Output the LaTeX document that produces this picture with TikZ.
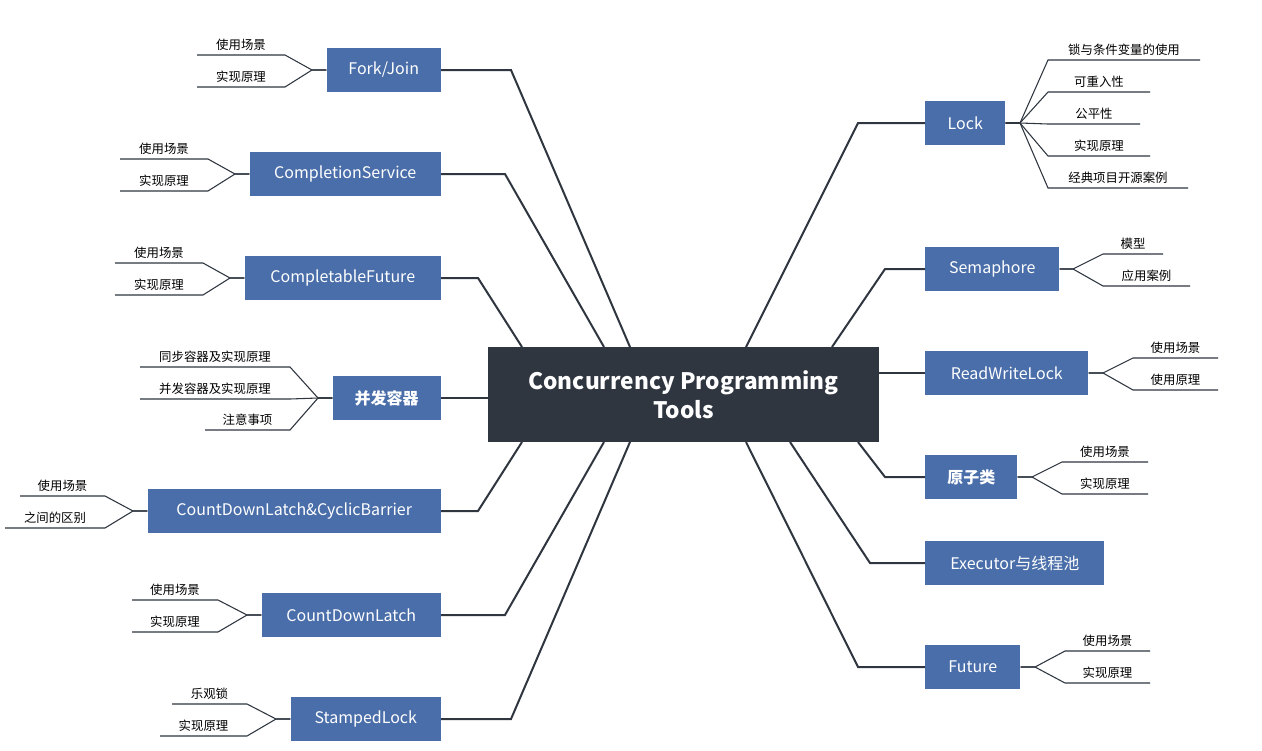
\documentclass[tikz,border=0pt]{standalone}
\usepackage{fontspec}
\setmainfont{Noto Sans CJK SC}
\begin{document}
\begin{tikzpicture}[x=0.75pt,y=-0.75pt,
  box/.style={fill=boxc,text=white,font=\fontsize{12}{14}\selectfont,minimum height=33pt,inner sep=0pt,anchor=west},
  lbox/.style={box,anchor=east},
  main/.style={draw=linec,line width=1.5pt},
  leaf/.style={draw=linec,line width=0.8pt},
  lt/.style={font=\fontsize{9.3}{11}\selectfont,text=black}]
\definecolor{boxc}{HTML}{4A6EA9}
\definecolor{linec}{HTML}{2F3640}
\useasboundingbox (0,0) rectangle (1262,750);
\fill[white] (0,0) rectangle (1262,750);
\node[fill=linec,text=white,font=\fontsize{17}{22}\selectfont\bfseries,align=center,minimum width=293pt,minimum height=71pt,inner sep=0pt] (c) at (683.5,394.5) {Concurrency Programming\\Tools};
\newcommand\lbx[4]{\node[lbox,minimum width=#3*0.75pt] (#1) at (441,#2) {#4};}
\lbx{fj}{70}{114}{Fork/Join}
\lbx{cs}{174}{191}{CompletionService}
\lbx{cf}{278}{196}{CompletableFuture}
\lbx{bf}{398}{108}{\textbf{并发容器}}
\lbx{cc}{511}{293}{CountDownLatch\&CyclicBarrier}
\lbx{cd}{615}{179}{CountDownLatch}
\lbx{sl}{719}{150}{StampedLock}
\newcommand\rbx[4]{\node[box,minimum width=#3*0.75pt] (#1) at (925,#2) {#4};}
\rbx{lk}{123}{80}{Lock}
\rbx{se}{269}{134}{Semaphore}
\rbx{rw}{373}{163}{ReadWriteLock}
\rbx{at}{477}{92}{\textbf{原子类}}
\rbx{ex}{563}{179}{Executor与线程池}
\rbx{fu}{667}{95}{Future}
\draw[main] (fj.east) -- (511,70) -- (630,347);
\draw[main] (cs.east) -- (505,174) -- (604,347);
\draw[main] (cf.east) -- (478,278) -- (522,347);
\draw[main] (bf.east) -- (c.west |- bf.east);
\draw[main] (cc.east) -- (478,511) -- (522,442);
\draw[main] (cd.east) -- (505,615) -- (604,442);
\draw[main] (sl.east) -- (511,719) -- (630,442);
\draw[main] (lk.west) -- (858,123) -- (746,347);
\draw[main] (se.west) -- (885,269) -- (832,347);
\draw[main] (rw.west) -- (c.east |- rw.west);
\draw[main] (at.west) -- (885,477) -- (858,442);
\draw[main] (ex.west) -- (870,563) -- (790,442);
\draw[main] (fu.west) -- (858,667) -- (746,442);
\newcommand\lleaf[6]{\draw[leaf] (#1.west) -- (#2,0 |- #1.west) -- (#5,#3) -- (#4,#3);
  \node[lt,anchor=south] at ({(#4+#5)/2},#3) {#6};}
\newcommand\rleaf[6]{\draw[leaf] (#1.east) -- (#2,0 |- #1.east) -- (#4,#3) -- (#5,#3);
  \node[lt,anchor=south] at ({(#4+#5)/2},#3) {#6};}
\lleaf{fj}{312}{55}{197}{285}{使用场景}
\lleaf{fj}{312}{87}{197}{285}{实现原理}
\lleaf{cs}{235}{159}{120}{208}{使用场景}
\lleaf{cs}{235}{191}{120}{208}{实现原理}
\lleaf{cf}{230}{263}{115}{203}{使用场景}
\lleaf{cf}{230}{295}{115}{203}{实现原理}
\lleaf{bf}{318}{367}{140}{290}{同步容器及实现原理}
\lleaf{bf}{318}{399}{140}{290}{并发容器及实现原理}
\lleaf{bf}{318}{430}{205}{290}{注意事项}
\lleaf{cc}{133}{496}{20}{105}{使用场景}
\lleaf{cc}{133}{528}{5}{105}{之间的区别}
\lleaf{cd}{247}{600}{132}{218}{使用场景}
\lleaf{cd}{247}{632}{132}{218}{实现原理}
\lleaf{sl}{276}{704}{172}{247}{乐观锁}
\lleaf{sl}{276}{736}{160}{247}{实现原理}
\rleaf{lk}{1020}{60}{1048}{1200}{锁与条件变量的使用}
\rleaf{lk}{1020}{92}{1048}{1150}{可重入性}
\rleaf{lk}{1020}{124}{1048}{1140}{公平性}
\rleaf{lk}{1020}{156}{1048}{1150}{实现原理}
\rleaf{lk}{1020}{188}{1048}{1188}{经典项目开源案例}
\rleaf{se}{1073}{254}{1103}{1163}{模型}
\rleaf{se}{1073}{286}{1103}{1190}{应用案例}
\rleaf{rw}{1103}{358}{1133}{1218}{使用场景}
\rleaf{rw}{1103}{390}{1133}{1218}{使用原理}
\rleaf{at}{1032}{462}{1062}{1148}{使用场景}
\rleaf{at}{1032}{494}{1062}{1148}{实现原理}
\rleaf{fu}{1035}{651}{1065}{1150}{使用场景}
\rleaf{fu}{1035}{683}{1065}{1150}{实现原理}
\end{tikzpicture}
\end{document}
